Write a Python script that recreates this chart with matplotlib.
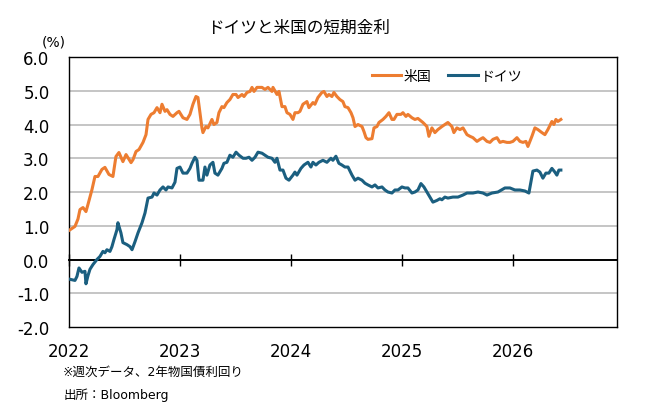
import matplotlib
matplotlib.use("Agg")
import matplotlib.pyplot as plt
import numpy as np

plt.rcParams['font.family'] = ['DejaVu Sans', 'Noto Sans CJK JP']

# weekly 2y yields (x in decimal years)
us_t = [2022.000, 2022.027, 2022.054, 2022.081, 2022.099, 2022.126, 2022.153, 2022.171, 2022.207, 2022.234,
        2022.261, 2022.297, 2022.324, 2022.360, 2022.396, 2022.423, 2022.450, 2022.486, 2022.514, 2022.559,
        2022.577, 2022.604, 2022.631, 2022.667, 2022.694, 2022.712, 2022.739, 2022.766, 2022.793, 2022.820,
        2022.838, 2022.865, 2022.883, 2022.910, 2022.937, 2022.973, 2022.991, 2023.027, 2023.063, 2023.090,
        2023.117, 2023.144, 2023.162, 2023.180, 2023.198, 2023.207, 2023.234, 2023.252, 2023.288, 2023.306,
        2023.333, 2023.351, 2023.378, 2023.396, 2023.423, 2023.450, 2023.477, 2023.505, 2023.523, 2023.559,
        2023.577, 2023.604, 2023.631, 2023.649, 2023.667, 2023.694, 2023.739, 2023.766, 2023.793, 2023.829,
        2023.838, 2023.874, 2023.892, 2023.919, 2023.946, 2023.964, 2023.991, 2024.018, 2024.036, 2024.063,
        2024.081, 2024.108, 2024.144, 2024.162, 2024.198, 2024.216, 2024.243, 2024.279, 2024.297, 2024.324,
        2024.342, 2024.369, 2024.387, 2024.414, 2024.441, 2024.468, 2024.486, 2024.514, 2024.541, 2024.559,
        2024.577, 2024.604, 2024.640, 2024.658, 2024.676, 2024.694, 2024.730, 2024.748, 2024.775, 2024.793,
        2024.829, 2024.856, 2024.883, 2024.910, 2024.928, 2024.955, 2024.991, 2025.009, 2025.036, 2025.054,
        2025.090, 2025.117, 2025.144, 2025.189, 2025.225, 2025.243, 2025.270, 2025.297, 2025.324, 2025.360,
        2025.387, 2025.414, 2025.450, 2025.468, 2025.495, 2025.523, 2025.550, 2025.586, 2025.613, 2025.640,
        2025.676, 2025.703, 2025.730, 2025.766, 2025.793, 2025.820, 2025.856, 2025.883, 2025.910, 2025.946,
        2025.973, 2026.000, 2026.036, 2026.063, 2026.090, 2026.117, 2026.135, 2026.171, 2026.198, 2026.225,
        2026.261, 2026.288, 2026.315, 2026.351, 2026.369, 2026.387, 2026.405, 2026.432]
us_2y = [0.86, 0.92, 0.98, 1.20, 1.48, 1.54, 1.42, 1.63, 2.07, 2.46,
         2.46, 2.67, 2.73, 2.52, 2.46, 3.05, 3.17, 2.90, 3.11, 2.87,
         2.96, 3.20, 3.26, 3.47, 3.70, 4.15, 4.30, 4.35, 4.50, 4.35,
         4.60, 4.39, 4.44, 4.30, 4.24, 4.35, 4.39, 4.20, 4.15, 4.30,
         4.60, 4.83, 4.80, 4.35, 3.90, 3.76, 3.94, 3.90, 4.15, 4.00,
         4.06, 4.35, 4.53, 4.50, 4.65, 4.74, 4.89, 4.89, 4.80, 4.89,
         4.83, 4.95, 4.98, 5.10, 4.98, 5.10, 5.10, 5.04, 5.10, 4.98,
         5.10, 4.89, 4.98, 4.53, 4.53, 4.35, 4.30, 4.15, 4.35, 4.35,
         4.39, 4.60, 4.68, 4.50, 4.65, 4.60, 4.80, 4.95, 4.98, 4.83,
         4.89, 4.83, 4.95, 4.83, 4.74, 4.68, 4.53, 4.50, 4.35, 4.20,
         3.94, 4.00, 3.94, 3.79, 3.61, 3.56, 3.58, 3.90, 3.94, 4.06,
         4.15, 4.24, 4.35, 4.15, 4.15, 4.30, 4.30, 4.35, 4.24, 4.30,
         4.20, 4.15, 4.18, 4.06, 3.94, 3.65, 3.90, 3.76, 3.85, 3.94,
         4.00, 4.06, 3.94, 3.76, 3.90, 3.85, 3.90, 3.70, 3.65, 3.61,
         3.50, 3.56, 3.61, 3.50, 3.47, 3.56, 3.61, 3.47, 3.50, 3.47,
         3.47, 3.50, 3.61, 3.50, 3.47, 3.50, 3.35, 3.65, 3.90, 3.85,
         3.76, 3.70, 3.85, 4.09, 4.00, 4.15, 4.09, 4.15]

de_t = [2022.000, 2022.027, 2022.054, 2022.072, 2022.090, 2022.117, 2022.144, 2022.153, 2022.171, 2022.189,
        2022.216, 2022.252, 2022.279, 2022.306, 2022.324, 2022.342, 2022.369, 2022.387, 2022.405, 2022.432,
        2022.441, 2022.468, 2022.486, 2022.523, 2022.550, 2022.568, 2022.595, 2022.622, 2022.658, 2022.685,
        2022.712, 2022.748, 2022.766, 2022.793, 2022.820, 2022.847, 2022.874, 2022.892, 2022.928, 2022.955,
        2022.973, 2023.000, 2023.027, 2023.063, 2023.090, 2023.108, 2023.135, 2023.153, 2023.171, 2023.207,
        2023.225, 2023.243, 2023.270, 2023.297, 2023.315, 2023.342, 2023.378, 2023.396, 2023.423, 2023.450,
        2023.477, 2023.505, 2023.532, 2023.568, 2023.595, 2023.622, 2023.649, 2023.676, 2023.703, 2023.739,
        2023.766, 2023.793, 2023.829, 2023.856, 2023.874, 2023.901, 2023.928, 2023.955, 2023.982, 2024.018,
        2024.036, 2024.054, 2024.090, 2024.117, 2024.153, 2024.180, 2024.198, 2024.225, 2024.252, 2024.288,
        2024.324, 2024.360, 2024.378, 2024.405, 2024.432, 2024.459, 2024.486, 2024.514, 2024.550, 2024.577,
        2024.604, 2024.640, 2024.667, 2024.694, 2024.730, 2024.757, 2024.784, 2024.820, 2024.847, 2024.874,
        2024.910, 2024.937, 2024.964, 2025.000, 2025.027, 2025.054, 2025.090, 2025.117, 2025.144, 2025.171,
        2025.198, 2025.225, 2025.252, 2025.279, 2025.315, 2025.342, 2025.360, 2025.387, 2025.414, 2025.459,
        2025.505, 2025.550, 2025.586, 2025.640, 2025.685, 2025.730, 2025.766, 2025.811, 2025.865, 2025.928,
        2025.973, 2026.018, 2026.063, 2026.108, 2026.144, 2026.180, 2026.216, 2026.243, 2026.270, 2026.297,
        2026.324, 2026.351, 2026.378, 2026.396, 2026.414, 2026.432]
de_2y = [-0.58, -0.60, -0.62, -0.50, -0.25, -0.38, -0.35, -0.72, -0.48, -0.29,
         -0.15, 0.00, 0.09, 0.24, 0.20, 0.29, 0.24, 0.38, 0.59, 0.88,
         1.09, 0.79, 0.50, 0.44, 0.38, 0.29, 0.53, 0.79, 1.09, 1.38,
         1.82, 1.85, 1.97, 1.91, 2.06, 2.15, 2.06, 2.15, 2.12, 2.29,
         2.70, 2.74, 2.56, 2.56, 2.70, 2.85, 3.03, 2.94, 2.35, 2.35,
         2.74, 2.50, 2.80, 2.88, 2.56, 2.50, 2.70, 2.85, 2.88, 3.09,
         3.03, 3.18, 3.09, 3.00, 3.00, 3.03, 2.94, 3.03, 3.18, 3.15,
         3.09, 3.03, 3.00, 2.88, 3.00, 2.65, 2.65, 2.41, 2.35, 2.50,
         2.59, 2.50, 2.70, 2.80, 2.88, 2.74, 2.88, 2.80, 2.88, 2.94,
         2.88, 3.00, 2.94, 3.06, 2.85, 2.80, 2.74, 2.74, 2.50, 2.35,
         2.41, 2.35, 2.26, 2.21, 2.15, 2.21, 2.12, 2.15, 2.06, 2.00,
         1.97, 2.06, 2.06, 2.15, 2.12, 2.12, 1.97, 2.00, 2.06, 2.25,
         2.15, 2.00, 1.85, 1.70, 1.75, 1.80, 1.77, 1.85, 1.82, 1.85,
         1.85, 1.91, 1.97, 1.97, 2.00, 1.97, 1.91, 1.97, 2.00, 2.12,
         2.12, 2.06, 2.06, 2.03, 1.97, 2.62, 2.65, 2.59, 2.41, 2.56,
         2.56, 2.70, 2.59, 2.50, 2.65, 2.65]

years = [2022, 2023, 2024, 2025, 2026]
y_ticks = [-2.0, -1.0, 0.0, 1.0, 2.0, 3.0, 4.0, 5.0, 6.0]

fig = plt.figure(figsize=(6.57, 4.10), dpi=100)
ax = fig.add_axes([0.105, 0.20, 0.834, 0.6585])

for y in y_ticks:
    if y not in (0.0, -2.0, 6.0):
        ax.axhline(y, color='#b5b5b5', lw=1.1, zorder=1)

ax.plot(us_t, us_2y, color='#ED7D31', lw=2.2, label='米国', zorder=3)
ax.plot(de_t, de_2y, color='#1B5F80', lw=2.2, label='ドイツ', zorder=3)

ax.set_xlim(2022, 2026.937)
ax.set_ylim(-2, 6)
ax.set_yticks(y_ticks)
ax.set_yticklabels([f'{v:.1f}' for v in y_ticks], fontsize=12)
ax.tick_params(axis='y', length=0, pad=14)
ax.set_xticks(years)
ax.set_xticklabels([str(y) for y in years], fontsize=12)
ax.tick_params(axis='x', length=0, pad=11)
for s in ax.spines.values():
    s.set_color('black')
    s.set_linewidth(1.0)

# zero line with year tick marks
sec = ax.secondary_xaxis(0.25)
sec.set_xticks(years)
sec.set_xticklabels([])
sec.tick_params(direction='inout', length=9, width=1.0, color='black')
sec.spines['bottom'].set_linewidth(1.4)

ax.legend(loc='center', bbox_to_anchor=(0.69, 0.93), ncol=2, frameon=False,
          fontsize=10, handlelength=2.1, handletextpad=0.2, columnspacing=1.2)

fig.text(0.455, 0.932, 'ドイツと米国の短期金利', ha='center', va='center', fontsize=12)
fig.text(0.064, 0.897, '(%)', ha='left', va='center', fontsize=10)
fig.text(0.096, 0.093, '※週次データ、2年物国債利回り', ha='left', va='center', fontsize=9)
fig.text(0.096, 0.037, '出所：Bloomberg', ha='left', va='center', fontsize=9)

fig.savefig('out.png', dpi=100)
